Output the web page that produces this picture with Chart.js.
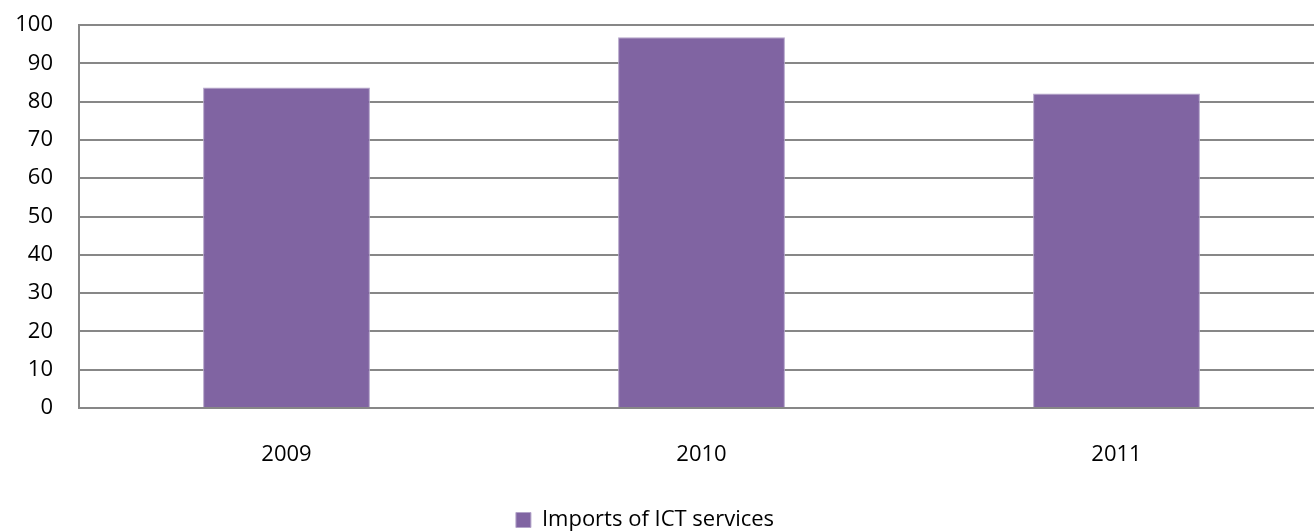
<!DOCTYPE html>
<html lang="en">
<head>
  <meta charset="UTF-8">
  <title>Imports of ICT services</title>
  <style>
    body {
      margin: 0;
      padding: 0;
      background-color: #fff;
    }
    .chart-container {
      width: 1314px;
      height: 532px;
    }
  </style>
  <script src="https://cdn.jsdelivr.net/npm/chart.js"></script>
</head>
<body>
  <div class="chart-container">
    <canvas id="ict-chart"></canvas>
  </div>

  <script>
    const years = ['2009', '2010', '2011'];
    const importsValues = [83.7, 96.8, 82.1];
    const yTicks = [0, 10, 20, 30, 40, 50, 60, 70, 80, 90, 100];

    const gridColor = '#878787';
    const fontFamily = '"Open Sans", Arial, sans-serif';

    // the original plot area runs a bit past the right edge of the picture
    const stretchPlot = {
      id: 'stretchPlot',
      afterLayout: function (chart) {
        const right = chart.width + 10;
        chart.chartArea.right = right;
        chart.chartArea.width = right - chart.chartArea.left;
        const x = chart.scales.x;
        x.right = right;
        x.width = right - x.left;
        x.configure();
      },
    };

    const ctx = document.getElementById('ict-chart').getContext('2d');
    new Chart(ctx, {
      type: 'bar',
      data: {
        labels: years,
        datasets: [{
          label: 'Imports of ICT services',
          data: importsValues,
          backgroundColor: '#8064a2',
          borderColor: '#b3a4c9',
          borderWidth: 1,
          categoryPercentage: 1,
          barPercentage: 0.402,
        }],
      },
      options: {
        responsive: true,
        maintainAspectRatio: false,
        animation: false,
        layout: {
          padding: { top: 25, right: 24, bottom: -9, left: 0 },
        },
        plugins: {
          tooltip: { enabled: false },
          legend: {
            display: true,
            position: 'bottom',
            labels: {
              color: '#000',
              font: { family: fontFamily, size: 22 },
              boxWidth: 15,
              boxHeight: 15,
              padding: 1,
            },
          },
        },
        scales: {
          x: {
            grid: { display: false, drawTicks: false },
            border: { display: true, color: gridColor, width: 2 },
            ticks: {
              color: '#000',
              font: { family: fontFamily, size: 22 },
              padding: 34,
            },
            afterFit: function (scale) {
              scale.height = 100;
              scale.paddingLeft = 0;
              scale.paddingRight = 0;
            },
          },
          y: {
            min: 0,
            max: 100,
            afterBuildTicks: function (scale) {
              scale.ticks = yTicks.map(v => ({ value: v }));
            },
            grid: { color: gridColor, lineWidth: 2, drawTicks: false },
            border: { display: true, color: gridColor, width: 2 },
            ticks: {
              color: '#000',
              font: { family: fontFamily, size: 22 },
              padding: 26,
            },
            afterFit: function (scale) {
              scale.width = 79;
              scale.paddingTop = 0;
              scale.paddingBottom = 0;
            },
          },
        },
      },
      plugins: [stretchPlot],
    });
  </script>
</body>
</html>
